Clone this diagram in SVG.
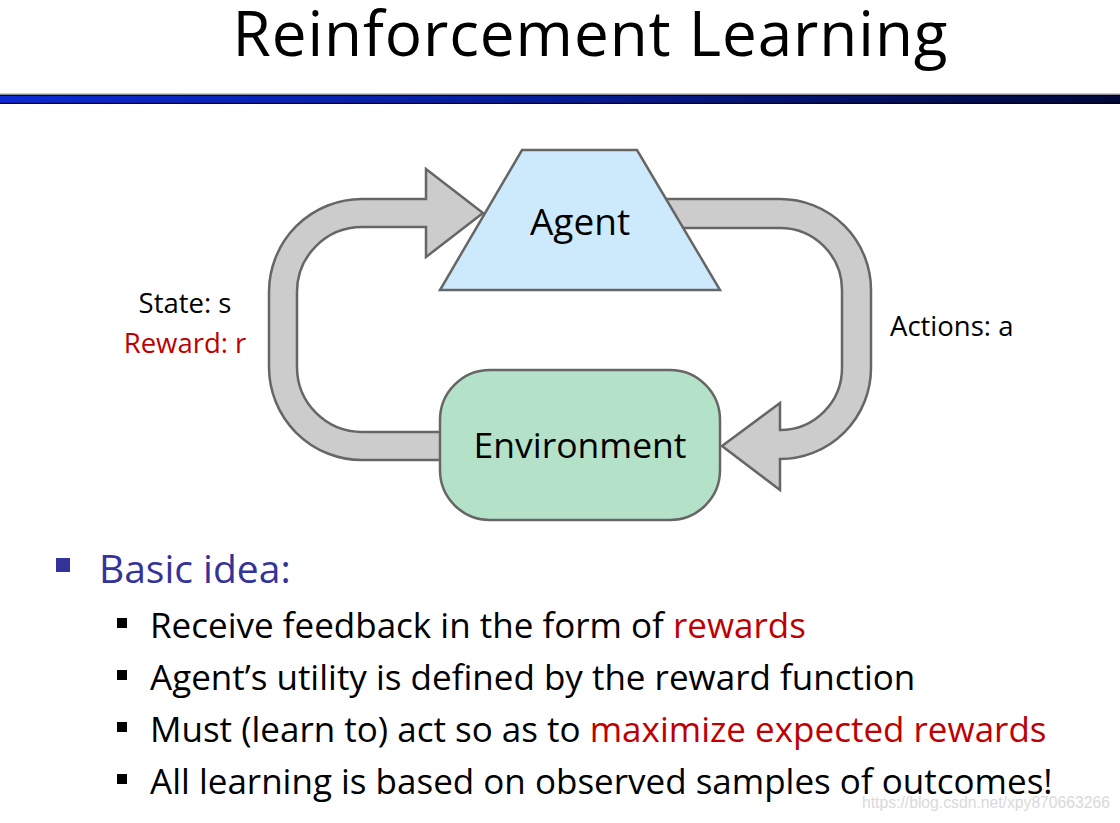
<svg xmlns="http://www.w3.org/2000/svg" width="1120" height="823" viewBox="0 0 1120 823">
  <defs>
    <linearGradient id="bar" x1="0" y1="0" x2="1" y2="0">
      <stop offset="0" stop-color="#0b2ad2"/>
      <stop offset="0.5" stop-color="#061c96"/>
      <stop offset="1" stop-color="#000838"/>
    </linearGradient>
  </defs>
  <style>
    .t { font-family: "Open Sans", "Liberation Sans", sans-serif; }
    .arrow { fill: #cccccc; stroke: #666666; stroke-width: 2.5; stroke-linejoin: miter; }
    .node { stroke: #666666; stroke-width: 2.5; }
    .red { fill: #c00000; }
    .blk { fill: #000000; }
  </style>
  <rect width="1120" height="823" fill="#ffffff"/>

  <!-- title -->
  <text class="t" x="590" y="56" font-size="62" text-anchor="middle" fill="#000" textLength="715" lengthAdjust="spacing">Reinforcement Learning</text>

  <!-- header bar -->
  <rect x="0" y="93.5" width="1120" height="1" fill="#9a9a9a"/>
  <rect x="0" y="94.7" width="1120" height="9.3" fill="#000"/>
  <rect x="0" y="95.8" width="1120" height="7" fill="url(#bar)"/>

  <!-- connectors -->
  <g id="connectors">
    <path id="state-arrow" class="arrow" d="M 460 432 L 362 432 A 65 65 0 0 1 297 367 L 297 292 A 65 65 0 0 1 362 227 L 426 227 L 426 257 L 483 213 L 426 169 L 426 199 L 362 199 A 93 93 0 0 0 269 292 L 269 367 A 93 93 0 0 0 362 460 L 460 460 Z"/>
    <path id="action-arrow" class="arrow" d="M 660 199 L 780 199 A 91 91 0 0 1 871 290 L 871 368 A 91 91 0 0 1 780 459 L 780 490 L 722 446 L 780 403 L 780 430 A 62 62 0 0 0 842 368 L 842 290 A 62 62 0 0 0 780 228 L 660 228 Z"/>
  </g>

  <!-- nodes -->
  <g id="agent">
    <polygon class="node" points="522,150 637,150 720,290 440,290" fill="#cdeafc"/>
    <text class="t" x="580" y="235" font-size="37" text-anchor="middle" fill="#000">Agent</text>
  </g>
  <g id="environment">
    <rect class="node" x="440" y="370" width="280" height="150" rx="50" ry="50" fill="#b4e2c8"/>
    <text class="t" x="580" y="458" font-size="35.5" text-anchor="middle" fill="#000">Environment</text>
  </g>

  <!-- labels -->
  <g id="labels">
    <text class="t" x="185" y="313" font-size="27.5" text-anchor="middle" fill="#000">State: s</text>
    <text class="t red" x="185" y="353" font-size="27.5" text-anchor="middle">Reward: r</text>
    <text class="t" x="890" y="336" font-size="27.5" fill="#000">Actions: a</text>
  </g>

  <!-- bullets -->
  <g id="bullets">
    <rect x="56" y="558" width="14" height="14" fill="#333399"/>
    <text class="t" x="99" y="583" font-size="39" fill="#333399">Basic idea:</text>

    <rect x="117" y="618" width="10" height="10" fill="#000"/>
    <text class="t" x="150" y="638" font-size="35" fill="#000">Receive feedback in the form of <tspan class="red">rewards</tspan></text>

    <rect x="117" y="670" width="10" height="10" fill="#000"/>
    <text class="t" x="150" y="690" font-size="35" fill="#000">Agent’s utility is defined by the reward function</text>

    <rect x="117" y="722" width="10" height="10" fill="#000"/>
    <text class="t" x="150" y="742" font-size="35" fill="#000">Must (learn to) act so as to <tspan class="red">maximize expected rewards</tspan></text>

    <rect x="117" y="774" width="10" height="10" fill="#000"/>
    <text class="t" x="150" y="794" font-size="35" fill="#000">All learning is based on observed samples of outcomes!</text>
  </g>

  <!-- watermark -->
  <text x="862" y="808" font-family="Liberation Sans, Arial, sans-serif" font-size="16" fill="#d9d9d9" textLength="248" lengthAdjust="spacingAndGlyphs">https://blog.csdn.net/xpy870663266</text>
</svg>
